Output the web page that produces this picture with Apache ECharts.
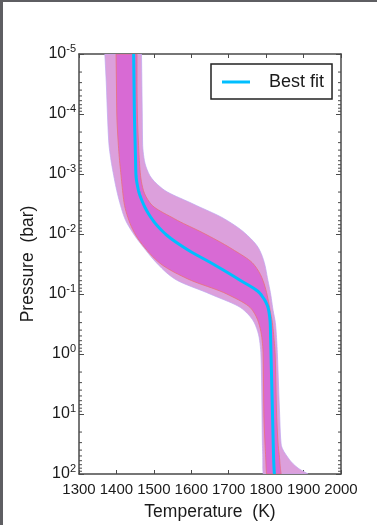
<!DOCTYPE html>
<html>
<head>
<meta charset="utf-8">
<script src="https://cdn.jsdelivr.net/npm/echarts@6/dist/echarts.min.js"></script>
<style>
  html, body { margin: 0; padding: 0; background: #fff; }
  #chart { width: 377px; height: 525px; }
</style>
</head>
<body>
<div id="chart"></div>
<script>
// Pressure levels (bar) of the retrieved temperature profile
const pressure = [1e-5, 3.16e-5, 1e-4, 3.16e-4, 5.62e-4, 1e-3, 1.78e-3, 3.16e-3, 5.62e-3,
  1e-2, 1.78e-2, 3.16e-2, 5.62e-2, 0.1, 0.178, 0.316, 0.562, 1, 3.16, 10, 31.6, 56.2, 79.4, 100];

// Best-fit temperature (K) at each pressure level
const bestFit = [1446, 1447, 1448, 1450, 1451, 1452, 1458, 1472, 1495,
  1531, 1587, 1658, 1725, 1785, 1806, 1811, 1812, 1813, 1815, 1817, 1819, 1820, 1821, 1822];

// 1-sigma envelope
const sigma1Low = [1399, 1400, 1401, 1405, 1408, 1412, 1416, 1421, 1432,
  1450, 1479, 1519, 1591, 1695, 1761, 1781, 1789, 1792, 1793, 1794, 1797, 1799, 1800, 1801];
const sigma1High = [1455, 1455, 1456, 1459, 1461, 1464, 1471, 1492, 1556,
  1637, 1709, 1766, 1790, 1802, 1810, 1817, 1821, 1824, 1826, 1828, 1832, 1836, 1838, 1840];

// 2-sigma envelope
const sigma2Low = [1369, 1373, 1376, 1380, 1385, 1392, 1400, 1410, 1423,
  1446, 1476, 1510, 1556, 1650, 1737, 1770, 1782, 1786, 1788, 1789, 1790, 1791, 1791, 1792];
const sigma2High = [1467, 1468, 1469, 1470, 1474, 1487, 1524, 1605, 1689,
  1746, 1781, 1796, 1804, 1812, 1818, 1825, 1828, 1830, 1833, 1836, 1840, 1861, 1885, 1912];

// Axis ranges
const temperatureTicks = [1300, 1400, 1500, 1600, 1700, 1800, 1900, 2000];
const pressureDecades = [1e-5, 1e-4, 1e-3, 1e-2, 1e-1, 1, 10, 100];

const FONT = '"Liberation Sans", Arial, sans-serif';
const AXIS_COLOR = '#4a4a4a';
const TEXT_COLOR = '#1a1a1a';

// minor log ticks (2..9 within every decade)
const minorTicks = [];
pressureDecades.slice(0, -1).forEach(d => {
  for (let k = 2; k <= 9; k++) minorTicks.push(d * k);
});

// Monotone cubic (PCHIP) through pixel points, treating x as a function of y,
// sampled densely so the profile edges come out as smooth curves.
function smoothProfile(pts) {
  const n = pts.length;
  const h = [], d = [];
  for (let k = 0; k < n - 1; k++) {
    h.push(pts[k + 1][1] - pts[k][1]);
    d.push((pts[k + 1][0] - pts[k][0]) / h[k]);
  }
  const m = new Array(n);
  m[0] = d[0];
  m[n - 1] = d[n - 2];
  for (let k = 1; k < n - 1; k++) {
    if (d[k - 1] * d[k] <= 0) { m[k] = 0; continue; }
    const w1 = 2 * h[k] + h[k - 1];
    const w2 = h[k] + 2 * h[k - 1];
    m[k] = (w1 + w2) / (w1 / d[k - 1] + w2 / d[k]);
  }
  const out = [pts[0]];
  const steps = 10;
  for (let k = 0; k < n - 1; k++) {
    const x0 = pts[k][0], x1 = pts[k + 1][0], y0 = pts[k][1], hk = h[k];
    for (let s = 1; s <= steps; s++) {
      const t = s / steps;
      const t2 = t * t, t3 = t2 * t;
      const x = (2 * t3 - 3 * t2 + 1) * x0 + (t3 - 2 * t2 + t) * hk * m[k]
        + (-2 * t3 + 3 * t2) * x1 + (t3 - t2) * hk * m[k + 1];
      out.push([x, y0 + t * hk]);
    }
  }
  return out;
}

function bandRenderer(lo, hi, fill, stroke) {
  return function (params, api) {
    const left = smoothProfile(pressure.map((p, i) => api.coord([lo[i], p])));
    const right = smoothProfile(pressure.map((p, i) => api.coord([hi[i], p])));
    return {
      type: 'polygon',
      shape: { points: left.concat(right.reverse()) },
      style: { fill: fill, stroke: stroke, lineWidth: 1 }
    };
  };
}

function profileRenderer(values, color, width) {
  return function (params, api) {
    const pts = smoothProfile(pressure.map((p, i) => api.coord([values[i], p])));
    return {
      type: 'polyline',
      shape: { points: pts },
      style: { stroke: color, lineWidth: width, fill: null, lineJoin: 'round' }
    };
  };
}

function minorTickRenderer(params, api) {
  const xMin = temperatureTicks[0];
  const xMax = temperatureTicks[temperatureTicks.length - 1];
  const children = [];
  minorTicks.forEach(v => {
    const l = api.coord([xMin, v]);
    const r = api.coord([xMax, v]);
    children.push({ type: 'line', shape: { x1: l[0], y1: l[1], x2: l[0] + 3, y2: l[1] },
      style: { stroke: AXIS_COLOR, lineWidth: 1 } });
    children.push({ type: 'line', shape: { x1: r[0], y1: r[1], x2: r[0] - 3, y2: r[1] },
      style: { stroke: AXIS_COLOR, lineWidth: 1 } });
  });
  return { type: 'group', children: children };
}

const chart = echarts.init(document.getElementById('chart'), null, { renderer: 'canvas' });

const expLabel = {
  formatter: v => '{b|10}{s|' + Math.round(Math.log10(v)) + '}',
  margin: 3,
  rich: {
    b: { fontSize: 16, fontFamily: FONT, color: TEXT_COLOR, verticalAlign: 'bottom', lineHeight: 16 },
    s: { fontSize: 11, fontFamily: FONT, color: TEXT_COLOR, verticalAlign: 'bottom', lineHeight: 11, padding: [0, 0, 8, 0] }
  }
};

chart.setOption({
  animation: false,
  backgroundColor: '#fff',
  grid: { left: 79, right: 36, top: 54, bottom: 51, containLabel: false, outerBoundsMode: 'none' },
  legend: {
    left: 211, top: 64,
    data: [{ name: 'Best fit', icon: 'rect' }],
    itemWidth: 28, itemHeight: 3,
    padding: [8, 8, 7, 11],
    borderColor: '#222', borderWidth: 1.5, backgroundColor: '#fff',
    textStyle: { fontSize: 18, fontFamily: FONT, color: TEXT_COLOR, padding: [0, 0, 0, 14], lineHeight: 20 }
  },
  xAxis: [{
    type: 'value', min: 1300, max: 2000, interval: 100,
    name: 'Temperature  (K)', nameLocation: 'middle', nameGap: 29,
    nameTextStyle: { fontSize: 17.5, fontFamily: FONT, color: TEXT_COLOR },
    axisLine: { show: true, lineStyle: { color: AXIS_COLOR, width: 1.5 } },
    axisTick: { show: true, inside: true, length: 4, lineStyle: { color: AXIS_COLOR } },
    axisLabel: { fontSize: 15, fontFamily: FONT, color: TEXT_COLOR, margin: 8, formatter: v => String(v), hideOverlap: false },
    splitLine: { show: false }
  }, {
    type: 'value', position: 'top', min: 1300, max: 2000, interval: 100,
    axisLine: { show: true, lineStyle: { color: AXIS_COLOR, width: 1.5 } },
    axisTick: { show: true, inside: true, length: 4, lineStyle: { color: AXIS_COLOR } },
    axisLabel: { show: false },
    splitLine: { show: false }
  }],
  yAxis: [{
    type: 'log', logBase: 10, inverse: true, min: 1e-5, max: 100,
    name: 'Pressure  (bar)', nameLocation: 'middle', nameGap: 42, nameRotate: 90,
    nameTextStyle: { fontSize: 17.5, fontFamily: FONT, color: TEXT_COLOR },
    axisLine: { show: true, lineStyle: { color: AXIS_COLOR, width: 1.5 } },
    axisTick: { show: true, inside: true, length: 5, lineStyle: { color: AXIS_COLOR } },
    axisLabel: expLabel,
    splitLine: { show: false }
  }, {
    type: 'log', logBase: 10, inverse: true, min: 1e-5, max: 100, position: 'right',
    axisLine: { show: true, lineStyle: { color: AXIS_COLOR, width: 1.5 } },
    axisTick: { show: true, inside: true, length: 5, lineStyle: { color: AXIS_COLOR } },
    axisLabel: { show: false },
    splitLine: { show: false }
  }],
  graphic: [
    { type: 'rect', left: 0, top: 0, shape: { width: 377, height: 2 }, style: { fill: '#5e5e62' }, z: 100 },
    { type: 'rect', left: 0, top: 0, shape: { width: 3, height: 525 }, style: { fill: '#5e5e62' }, z: 100 }
  ],
  series: [
    {
      name: '2 sigma', type: 'custom', clip: true, z: 1, silent: true,
      data: [0], renderItem: bandRenderer(sigma2Low, sigma2High, '#dca0dc', 'rgba(190,165,240,0.7)')
    },
    {
      name: '1 sigma', type: 'custom', clip: true, z: 2, silent: true,
      data: [0], renderItem: bandRenderer(sigma1Low, sigma1High, '#d86ad4', 'rgba(232,112,120,0.8)')
    },
    {
      name: 'Best fit', type: 'custom', clip: true, z: 3, silent: true,
      itemStyle: { color: '#00bfff' },
      data: [0], renderItem: profileRenderer(bestFit, '#00bfff', 3)
    },
    {
      name: 'minor ticks', type: 'custom', clip: false, z: 4, silent: true,
      data: [0], renderItem: minorTickRenderer
    }
  ]
});
</script>
</body>
</html>
